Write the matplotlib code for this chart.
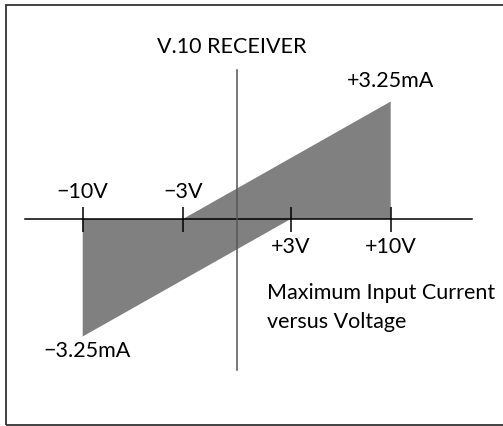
import numpy as np
import matplotlib
matplotlib.use("Agg")
import matplotlib.pyplot as plt
from matplotlib.patches import Rectangle

# ---- data ----
title = "V.10 RECEIVER"
caption = ["Maximum Input Current", "versus Voltage"]
tick_volts = [-10, -3, 3, 10]
tick_labels = ["\u221210V", "\u22123V", "+3V", "+10V"]
# shaded region boundary (volts, mA)
region_v = [-10, -3, 10, 10, 3, -10]
region_ma = [0, 0, 3.25, 0, 0, -3.25]
current_labels = ["+3.25mA", "\u22123.25mA"]
current_v = [10, -10]
current_ma = [3.25, -3.25]

# ---- layout ----
W, H = 503, 426
fig = plt.figure(figsize=(W / 100, H / 100), dpi=100)
ax = fig.add_axes([0, 0, 1, 1])
ax.set_axis_off()

# schematic (not-to-scale) voltage axis: piecewise-linear scale
v_bp = np.array([-40, -10, -3, 0, 3, 10, 40], dtype=float)
u_bp = np.array([82.7 - 30 * 14.33, 82.7, 183.0, 236.7, 290.7, 390.7, 390.7 + 30 * 14.29])


def fwd(v):
    return np.interp(v, v_bp, u_bp)


def inv(u):
    return np.interp(u, u_bp, v_bp)


ax.set_xscale("function", functions=(fwd, inv))
ax.set_xlim(inv(0.0), inv(float(W)))
k = 36.15  # px per mA
y0 = 219.0
ax.set_ylim(-(H - y0) / k, y0 / k)

font = ["Lato", "DejaVu Sans"]
fs = 15.5

# shaded region
ax.fill(region_v, region_ma, color="#808080", lw=0, zorder=1)

# axes lines
ax.axhline(0, xmin=25 / W, xmax=472 / W, color="black", lw=1.1, zorder=3)
ax.axvline(0, ymin=(H - 370) / H, ymax=(H - 70) / H, color="#555555", lw=1.1, zorder=3)
ax.vlines(tick_volts, -13 / k, 12 / k, color="black", lw=1.1, zorder=3)

# tick labels
for v, lab in zip(tick_volts, tick_labels):
    if v < 0:
        ax.text(v, 20.7 / k, lab, ha="center", va="baseline", fontsize=fs, family=font)
    else:
        ax.text(v, -34.3 / k, lab, ha="center", va="baseline", fontsize=fs, family=font)

# current labels
ax.text(current_v[0], current_ma[0] + 14.8 / k, current_labels[0], ha="center",
        va="baseline", fontsize=fs, family=font)
ax.annotate(current_labels[1], (current_v[1], current_ma[1]), xytext=(4.5, -20.5),
            textcoords="offset pixels", ha="center", va="baseline", fontsize=fs, family=font)

# title and caption
fig.text(157 / W, 1 - 53 / H, title, ha="left", va="baseline", fontsize=fs, family=font)
fig.text(267 / W, 1 - 299 / H, caption[0], ha="left", va="baseline", fontsize=fs, family=font)
fig.text(267 / W, 1 - 328.3 / H, caption[1], ha="left", va="baseline", fontsize=fs, family=font)

# frame
fig.add_artist(Rectangle((5.5 / W, 1 - 425 / H), 1.2, (425 - 4.5) / H,
                         transform=fig.transFigure, fill=False, ec="#333333", lw=1.3,
                         clip_on=False))

fig.savefig("out.png", dpi=100)
